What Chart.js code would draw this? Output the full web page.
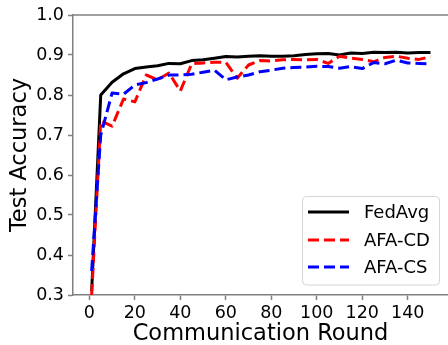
<!DOCTYPE html>
<html>
<head>
<meta charset="utf-8">
<script src="https://cdn.jsdelivr.net/npm/chart.js@4.4.1/dist/chart.umd.min.js"></script>
<style>
  html, body { margin: 0; padding: 0; background: #fff; }
  #wrap { width: 448px; height: 345px; }
</style>
</head>
<body>
<div id="wrap"><canvas id="c" width="448" height="345"></canvas></div>
<script>
const rounds = [1, 5, 10, 15, 20, 25, 30, 35, 40, 45, 50, 55, 60, 65, 70, 75, 80, 85, 90, 95, 100, 105, 110, 115, 120, 125, 130, 135, 140, 145, 150];
const fedAvg = [0.31, 0.80, 0.832, 0.853, 0.866, 0.870, 0.873, 0.879, 0.878, 0.886, 0.888, 0.892, 0.896, 0.895, 0.897, 0.898, 0.897, 0.897, 0.898, 0.901, 0.903, 0.904, 0.900, 0.905, 0.904, 0.907, 0.906, 0.907, 0.905, 0.906, 0.906];
const afaCD = [0.30, 0.735, 0.722, 0.79, 0.783, 0.85, 0.838, 0.855, 0.81, 0.878, 0.880, 0.882, 0.882, 0.842, 0.875, 0.886, 0.885, 0.888, 0.889, 0.888, 0.889, 0.879, 0.897, 0.892, 0.889, 0.883, 0.894, 0.897, 0.892, 0.889, 0.896];
const afaCS = [0.36, 0.70, 0.805, 0.802, 0.825, 0.831, 0.84, 0.85, 0.85, 0.852, 0.857, 0.862, 0.838, 0.845, 0.850, 0.858, 0.862, 0.867, 0.869, 0.870, 0.872, 0.871, 0.867, 0.871, 0.866, 0.881, 0.878, 0.887, 0.880, 0.879, 0.878];
const seriesNames = ['FedAvg', 'AFA-CD', 'AFA-CS'];
const xTicks = [0, 20, 40, 60, 80, 100, 120, 140];
const yTicks = [0.3, 0.4, 0.5, 0.6, 0.7, 0.8, 0.9, 1.0];
const xLabel = 'Communication Round';
const yLabel = 'Test Accuracy';

const FONT = 'DejaVu Sans';
const SPINE = '#808080';

function pts(arr) { return rounds.map((r, i) => ({ x: r, y: arr[i] })); }

const frame = {
  id: 'frame',
  afterDatasetsDraw(chart) {
    const { ctx, chartArea: a } = chart;
    ctx.save();
    ctx.strokeStyle = SPINE;
    ctx.lineWidth = 1.5;
    ctx.beginPath();
    ctx.moveTo(a.left, a.top);
    ctx.lineTo(a.right, a.top);
    ctx.stroke();
    ctx.restore();
  },
  afterDraw(chart) {
    const ctx = chart.ctx;
    const bx = 302.5, by = 196.5, bw = 137, bh = 88.5, r = 4;
    ctx.save();
    ctx.fillStyle = 'rgba(255,255,255,0.85)';
    ctx.strokeStyle = '#d6d6d6';
    ctx.lineWidth = 1;
    ctx.beginPath();
    ctx.roundRect(bx, by, bw, bh, r);
    ctx.fill();
    ctx.stroke();
    const rows = [212, 240, 267];
    chart.data.datasets.forEach((ds, i) => {
      const y = rows[i];
      ctx.strokeStyle = ds.borderColor;
      ctx.lineWidth = ds.borderWidth;
      ctx.setLineDash(ds.borderDash || []);
      ctx.beginPath();
      ctx.moveTo(308, y);
      ctx.lineTo(349, y);
      ctx.stroke();
      ctx.setLineDash([]);
      ctx.fillStyle = '#000';
      ctx.font = '18px "' + FONT + '"';
      ctx.textBaseline = 'middle';
      ctx.textAlign = 'left';
      ctx.fillText(ds.label, 364, y + 1);
    });
    ctx.restore();
  }
};

new Chart(document.getElementById('c'), {
  type: 'line',
  data: {
    datasets: [
      { label: seriesNames[0], data: pts(fedAvg), borderColor: '#000000', borderWidth: 3, order: 2 },
      { label: seriesNames[1], data: pts(afaCD), borderColor: '#ff0000', borderWidth: 3, borderDash: [11, 5], order: 1 },
      { label: seriesNames[2], data: pts(afaCS), borderColor: '#0000ff', borderWidth: 3, borderDash: [11, 5], order: 0 }
    ]
  },
  options: {
    responsive: false,
    animation: false,
    devicePixelRatio: 1,
    layout: { padding: { top: 15, right: 0, left: 0, bottom: 0 } },
    elements: { point: { radius: 0 }, line: { tension: 0, fill: false, borderCapStyle: 'butt', borderJoinStyle: 'round' } },
    plugins: { legend: { display: false }, tooltip: { enabled: false } },
    scales: {
      x: {
        type: 'linear',
        min: -7.2,
        max: 157.7,
        afterBuildTicks(s) { s.ticks = xTicks.map(v => ({ value: v })); },
        afterFit(s) { s.height = 50; },
        grid: { drawOnChartArea: false, drawTicks: true, tickLength: 5, tickColor: SPINE, tickWidth: 1.5 },
        border: { display: true, color: SPINE, width: 1.5 },
        ticks: { color: '#000', font: { family: FONT, size: 17.5 }, padding: 3, maxRotation: 0, autoSkip: false },
        title: { display: true, text: xLabel, color: '#000', font: { family: FONT, size: 22.5, lineHeight: 1 }, padding: { top: 0, bottom: 0 } }
      },
      y: {
        type: 'linear',
        min: 0.3,
        max: 1.0,
        afterBuildTicks(s) { s.ticks = yTicks.map(v => ({ value: v })); },
        afterFit(s) { s.width = 73; },
        grid: { drawOnChartArea: false, drawTicks: true, tickLength: 5, tickColor: SPINE, tickWidth: 1.5 },
        border: { display: true, color: SPINE, width: 1.5 },
        ticks: { color: '#000', font: { family: FONT, size: 17.5 }, padding: 4, callback: v => Number(v).toFixed(1) },
        title: { display: true, text: yLabel, color: '#000', font: { family: FONT, size: 22.5, lineHeight: 1 }, padding: { top: 9, bottom: 0 } }
      }
    }
  },
  plugins: [frame]
});
</script>
</body>
</html>
